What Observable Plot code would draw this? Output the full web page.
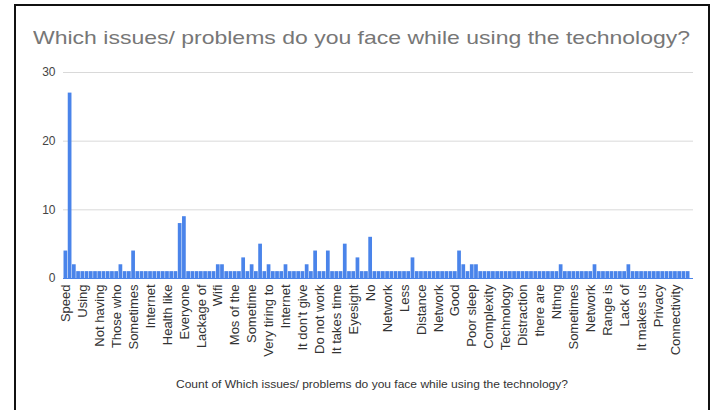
<!DOCTYPE html>
<html>
<head>
<meta charset="utf-8">
<script src="https://cdn.jsdelivr.net/npm/d3@7"></script>
<script src="https://cdn.jsdelivr.net/npm/@observablehq/plot@0.6"></script>
<style>
  html, body { margin: 0; padding: 0; background: #fff; }
  #wrap { position: relative; width: 711px; height: 410px; overflow: hidden; font-family: "Liberation Sans", Arial, sans-serif; }
  #chart { position: absolute; left: 0; top: 0; }
  #frame { position: absolute; left: 14px; top: 4px; width: 696px; height: 430px; box-sizing: border-box;
           border: 2px solid #111; border-bottom: none; pointer-events: none; }
  .title { position: absolute; white-space: nowrap; transform-origin: 0 0; }
  #title { left: 33px; top: 27px; font-size: 19px; color: #777; }
  #xtitle { left: 176px; top: 378px; font-size: 11px; color: #333; }
</style>
</head>
<body>
<div id="wrap">
  <div id="chart"></div>
  <div id="title" class="title">Which issues/ problems do you face while using the technology?</div>
  <div id="xtitle" class="title">Count of Which issues/ problems do you face while using the technology?</div>
  <div id="frame"></div>
</div>
<script>
// Number of responses per answer, in the order the answers appear on the axis
const counts = [
  4, 27, 2, 1, 1, 1, 1, 1, 1, 1,  1, 1, 1, 2, 1, 1, 4, 1, 1, 1,
  1, 1, 1, 1, 1, 1, 1, 8, 9, 1,  1, 1, 1, 1, 1, 1, 2, 2, 1, 1,
  1, 1, 3, 1, 2, 1, 5, 1, 2, 1,  1, 1, 2, 1, 1, 1, 1, 2, 1, 4,
  1, 1, 4, 1, 1, 1, 5, 1, 1, 3,  1, 1, 6, 1, 1, 1, 1, 1, 1, 1,
  1, 1, 3, 1, 1, 1, 1, 1, 1, 1,  1, 1, 1, 4, 2, 1, 2, 2, 1, 1,
  1, 1, 1, 1, 1, 1, 1, 1, 1, 1,  1, 1, 1, 1, 1, 1, 1, 2, 1, 1,
  1, 1, 1, 1, 1, 2, 1, 1, 1, 1,  1, 1, 1, 2, 1, 1, 1, 1, 1, 1,
  1, 1, 1, 1, 1, 1, 1, 1
];

// Answer labels shown on the axis (every fourth answer is labelled)
const tickLabels = [
  "Speed", "Using", "Not having", "Those who", "Sometimes", "Internet", "Health like",
  "Everyone", "Lackage of", "Wifi", "Mos of the", "Sometime", "Very tiring to", "Internet",
  "It don't give", "Do not work", "It takes time", "Eyesight", "No", "Network", "Less",
  "Distance", "Network", "Good", "Poor sleep", "Complexity", "Technology", "Distraction",
  "there are", "Nthng", "Sometimes", "Network", "Range is", "Lack of", "It makes us",
  "Privacy", "Connectivity"
];
const labelEvery = 4;
const yTicks = [0, 10, 20, 30];

const rows = counts.map((value, i) => ({ i, value }));

const chart = Plot.plot({
  width: 711,
  height: 410,
  marginLeft: 63,
  marginRight: 18,
  marginTop: 72,
  marginBottom: 132,
  style: { fontFamily: "'Liberation Sans', Arial, sans-serif", background: "transparent" },
  x: { type: "band", domain: d3.range(counts.length), padding: 0.12, insetRight: 3 },
  y: { domain: [0, 30] },
  marks: [
    Plot.gridY({ ticks: yTicks.slice(1), stroke: "#d9d9d9", strokeOpacity: 1 }),
    Plot.barY(rows, { x: "i", y: "value", fill: "#4a84ea" }),
    Plot.ruleY([0], { stroke: "#4a84ea", strokeWidth: 1 }),
    Plot.axisY({ ticks: yTicks, tickSize: 0, tickPadding: 8, fontSize: 12, fill: "#444", label: null }),
    Plot.axisX({
      ticks: d3.range(0, counts.length, labelEvery).slice(0, tickLabels.length),
      tickFormat: (i) => tickLabels[i / labelEvery],
      tickRotate: -90, tickSize: 0, tickPadding: 6, fontSize: 13, fill: "#333", label: null
    })
  ]
});
document.getElementById("chart").appendChild(chart);

// stretch the headings to their drawn widths
function fit(id, width) {
  const el = document.getElementById(id);
  const w = el.getBoundingClientRect().width;
  el.style.transform = `scaleX(${width / w})`;
}
fit("title", 657);
fit("xtitle", 392);
</script>
</body>
</html>
